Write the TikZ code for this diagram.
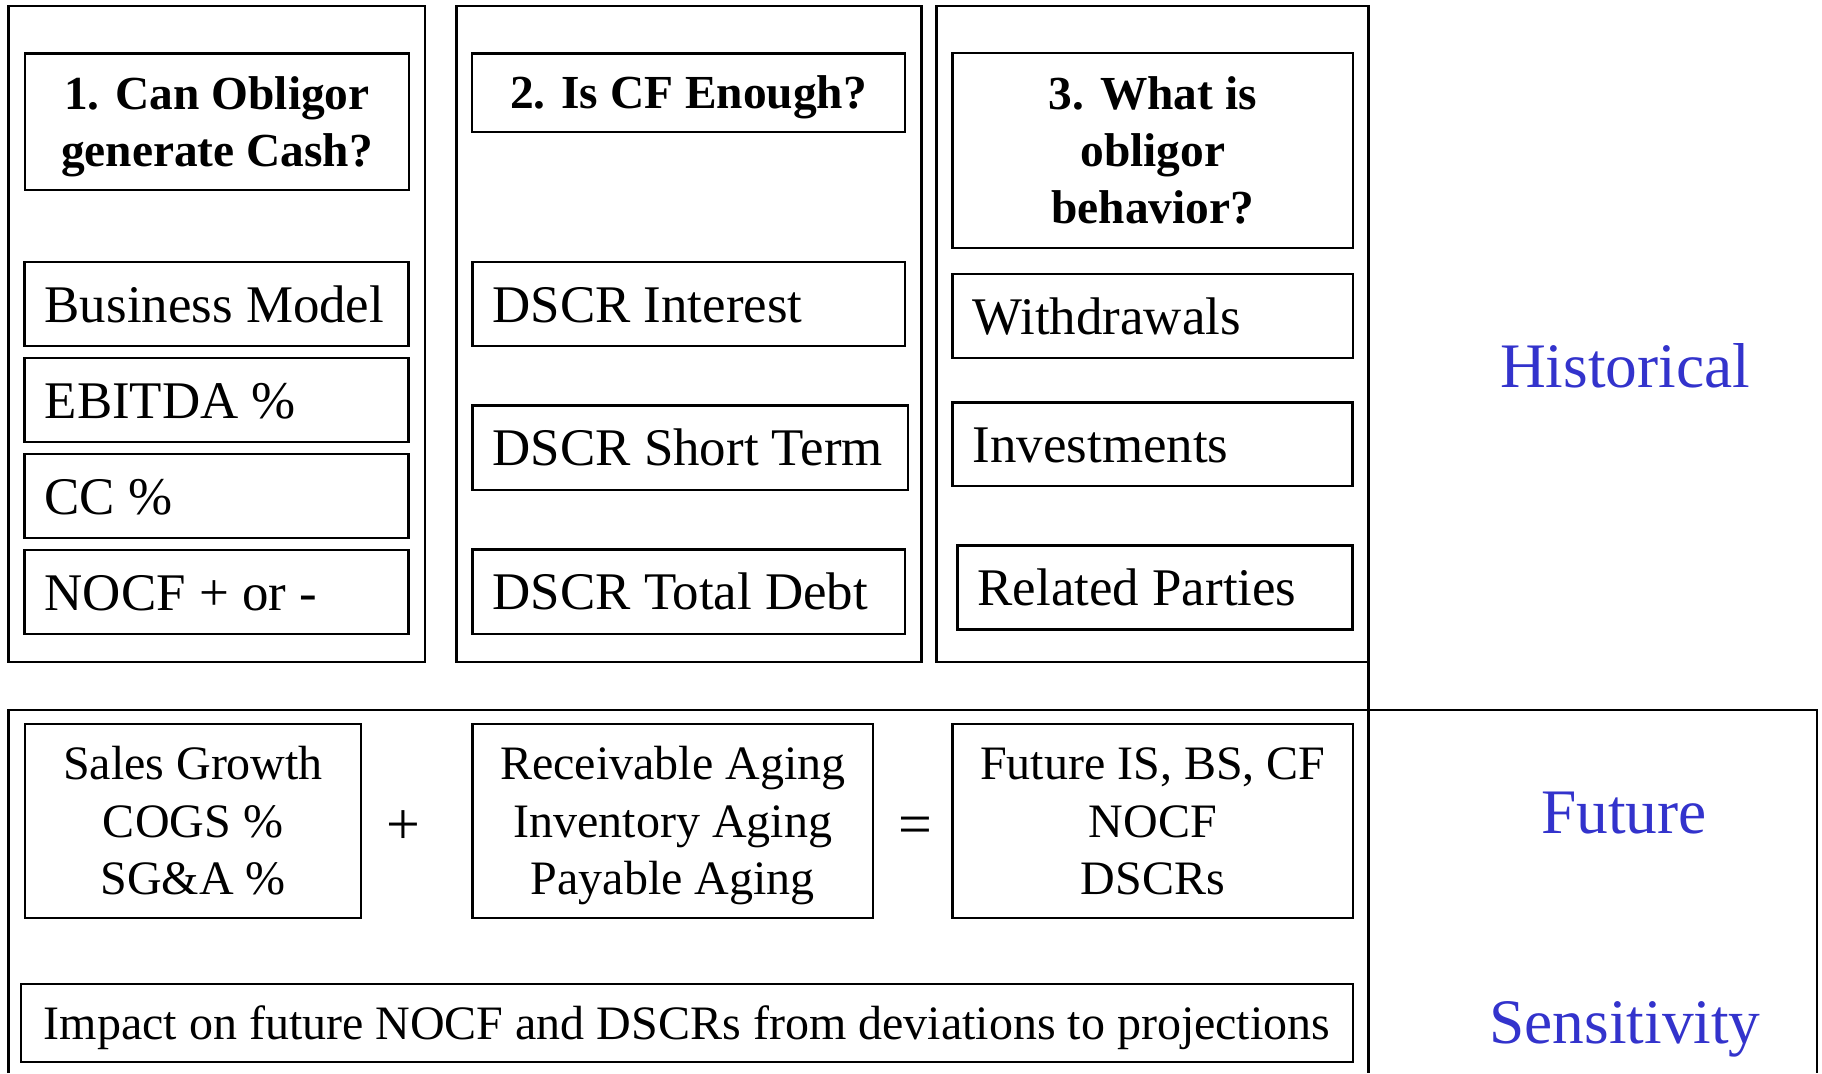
\documentclass[tikz,border=0pt]{standalone}
\usepackage{fontspec}
\setmainfont{Liberation Serif}
\definecolor{lblue}{RGB}{51,51,204}
\tikzset{
  box/.style={draw, line width=2.5pt, inner ysep=0pt, text depth=0pt},
  lbox/.style={box, inner xsep=20pt, align=flush left, text height=36pt,
    font=\fontsize{52.9}{63.5}\selectfont},
  tbox/.style={box, inner xsep=0pt, align=center,
    font=\bfseries\fontsize{47.4}{56.9}\selectfont},
  cbox/.style={box, inner xsep=0pt, align=center,
    font=\fontsize{48}{57.5}\selectfont},
  frame/.style={draw, line width=2.5pt},
  tag/.style={text=lblue, anchor=base, inner sep=0pt, font=\fontsize{63.4}{76}\selectfont},
  op/.style={anchor=base, inner sep=0pt, font=\fontsize{60}{72}\selectfont},
}
\begin{document}
\begin{tikzpicture}[x=1pt,y=-1pt]
\useasboundingbox (0,0) rectangle (1822,1073);
% column frames
\draw[frame] (8.5,6) rectangle (424.8,662);
\draw[frame] (456.3,6) rectangle (921.5,662);
\draw[frame] (936.3,6) rectangle (1368.5,662);
% bottom frame (open at the bottom edge)
\draw[frame] (8.5,1073) -- (8.5,710) -- (1817,710) -- (1817,1073);
\draw[frame] (1368.5,182) -- (1368.5,1073);

% column 1
\node[tbox, text height=89.1pt, minimum width=384pt, minimum height=136.7pt] (t1) at (217,121.7) {1. Can Obligor\\generate Cash?};
\node[lbox, minimum width=384pt, text width=344pt, minimum height=84pt] (bm) at (216.7,304) {\mbox{Business Model}};
\node[lbox, minimum width=384pt, text width=344pt, minimum height=84pt] (eb) at (216.7,400) {\mbox{EBITDA \%}};
\node[lbox, minimum width=384pt, text width=344pt, minimum height=84pt] (cc) at (216.7,496) {\mbox{CC \%}};
\node[lbox, minimum width=384pt, text width=344pt, minimum height=84pt] (nocf) at (216.7,592) {\mbox{NOCF + or -}};

% column 2
\node[tbox, text height=32.2pt, minimum width=433pt, minimum height=78.7pt] (t2) at (688.5,92.7) {2. Is CF Enough?};
\node[lbox, minimum width=432.5pt, text width=392.5pt, minimum height=84pt] (di) at (688.75,304) {\mbox{DSCR Interest}};
\node[lbox, minimum width=435.3pt, text width=395.3pt, minimum height=84.3pt] (dst) at (690.35,447.85) {\mbox{DSCR Short Term}};
\node[lbox, minimum width=432.3pt, text width=392.3pt, minimum height=84.3pt] (dtd) at (688.85,591.85) {\mbox{DSCR Total Debt}};

% column 3
\node[tbox, text height=146pt, minimum width=400.3pt, minimum height=195pt] (t3) at (1152.85,150.5) {3. What is\\obligor\\behavior?};
\node[lbox, minimum width=400.3pt, text width=360.3pt, minimum height=84pt] (wd) at (1152.85,316) {\mbox{Withdrawals}};
\node[lbox, minimum width=400pt, text width=360pt, minimum height=83.7pt] (inv) at (1152.7,444.15) {\mbox{Investments}};
\node[lbox, minimum width=395pt, text width=355pt, minimum height=84pt] (rp) at (1155.2,587.7) {\mbox{Related Parties}};

% future row
\node[cbox, text height=147.6pt, minimum width=336pt, minimum height=194pt] (sg) at (193,821) {Sales Growth\\COGS \%\\SG\&A \%};
\node[op] (plus) at (403,844) {+};
\node[cbox, text height=147.6pt, minimum width=400.3pt, minimum height=194pt] (ra) at (672.85,821) {Receivable Aging\\Inventory Aging\\Payable Aging};
\node[op] (eq) at (915,844) {=};
\node[cbox, text height=147.6pt, minimum width=400.5pt, minimum height=194pt] (fu) at (1152.75,821) {Future IS, BS, CF\\NOCF\\DSCRs};

% sensitivity
\node[cbox, text height=32.6pt, minimum width=1332pt, minimum height=78pt] (imp) at (687,1023) {Impact on future NOCF and DSCRs from deviations to projections};

% side labels
\node[tag] (hist) at (1625,387) {Historical};
\node[tag] (fut) at (1624,833) {Future};
\node[tag] (sens) at (1625,1043) {Sensitivity};
\end{tikzpicture}
\end{document}
